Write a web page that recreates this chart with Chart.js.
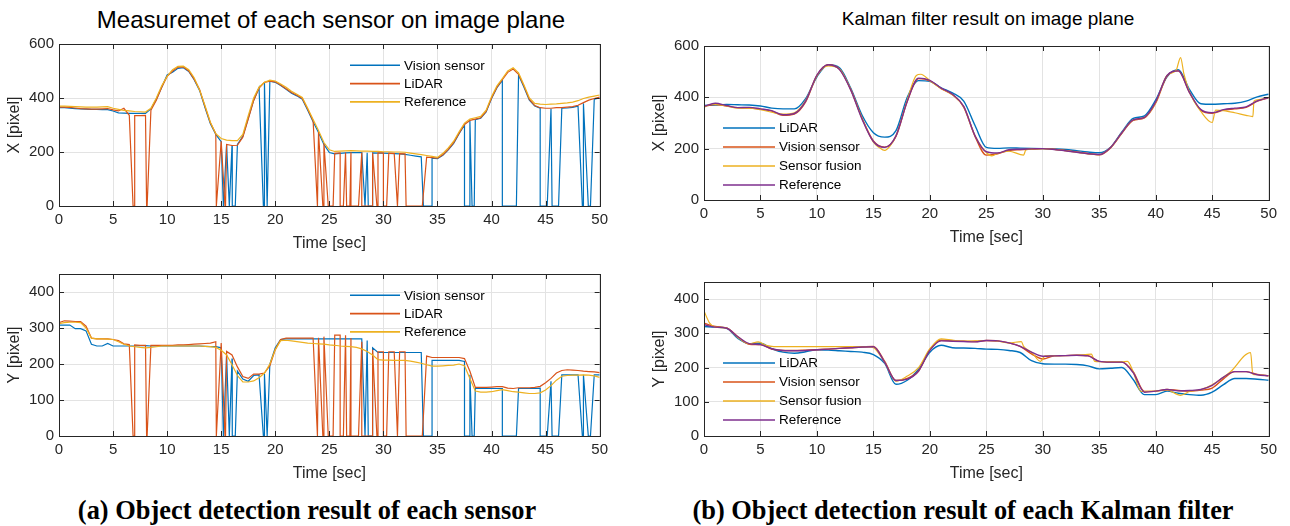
<!DOCTYPE html>
<html>
<head>
<meta charset="utf-8">
<script src="https://cdn.jsdelivr.net/npm/chart.js@4.4.1/dist/chart.umd.min.js"></script>
<style>
  body { margin: 0; background: #fff; width: 1290px; height: 526px; position: relative; overflow: hidden; font-family: "Liberation Sans", Arial, sans-serif; }
  canvas { position: absolute; }
  .titulo { position: absolute; font-size: 19px; line-height: 22px; color: #000; white-space: nowrap; transform: translateX(-50%); }
  .legenda { position: absolute; font-family: "Liberation Serif", "Times New Roman", serif; font-weight: bold; font-size: 26.4px; line-height: 30px; color: #000; white-space: nowrap; transform: translateX(-50%); }
</style>
</head>
<body>
<div class="titulo" style="left:331px; top:7px; font-size:24px; line-height:26px">Measuremet of each sensor on image plane</div>
<div class="titulo" style="left:988px; top:8px">Kalman filter result on image plane</div>

<canvas id="medidaX" style="left:0; top:30px" width="613" height="223"></canvas>
<canvas id="medidaY" style="left:0; top:260px" width="613" height="223"></canvas>
<canvas id="kalmanX" style="left:645px; top:32px" width="637" height="215"></canvas>
<canvas id="kalmanY" style="left:645px; top:268px" width="637" height="215"></canvas>

<div class="legenda" style="left:307px; top:495px">(a) Object detection result of each sensor</div>
<div class="legenda" style="left:963px; top:495px">(b) Object detection result of each Kalman filter</div>

<script>
'use strict';
// TEMPO (s)
const tA = [0,0.5,1,1.5,2,2.5,3,3.5,4,4.5,5,5.5,6,6.5,7,7.5,8,8.5,9,9.5,
  10,10.5,11,11.5,12,12.5,13,13.5,14,14.5,15,15.5,16,16.5,17,17.5,18,18.5,19,19.5,
  20,20.5,21,21.5,22,22.5,23,23.5,24,24.5,25,25.5,26,26.5,27,27.5,28,28.5,29,29.5,
  30,30.5,31,31.5,32,32.5,33,33.5,34,34.5,35,35.5,36,36.5,37,37.5,38,38.5,39,39.5,
  40,40.5,41,41.5,42,42.5,43,43.5,44,44.5,45,45.5,46,46.5,47,47.5,48,48.5,49,49.5,50];
const tB = [0,1,2,3,4,5,6,7,8,9,10,11,12,13,14,15,16,17,18,19,20,21,22,23,24,25,
  26,27,28,29,30,31,32,33,34,35,36,37,38,39,40,41,42,43,44,45,46,47,48,49,50];

// (a) MEDIDAS DE CADA SENSOR
const visaoX = [364,364,362,361,360,359,358,358,357,357,
  352,345,344,343,343,343,343,360,395,440,
  485,495,510,512,498,468,428,365,305,265,
  238,228,225,228,258,325,392,438,458,462,
  458,446,432,418,408,395,355,312,272,228,
  198,193,195,197,198,198,198,197,197,196,
  196,195,194,193,191,188,185,182,179,177,
  175,188,208,232,268,300,315,320,325,348,
  398,438,465,493,505,485,440,392,370,362,
  360,360,362,362,363,365,370,380,390,396,400];
const lidarX = [366,366,365,363,361,360,359,359,360,361,
  356,352,362,336,335,335,336,355,392,440,
  480,500,514,515,500,470,432,368,308,268,
  240,228,224,225,255,322,390,437,458,462,
  460,448,434,420,410,398,358,316,275,232,
  200,195,197,198,199,199,198,198,197,197,
  197,196,195,194,193,190,187,184,181,179,
  177,190,210,235,270,302,317,322,327,350,
  400,440,468,495,507,488,444,395,372,364,
  362,362,364,364,366,368,373,383,392,398,403];
const referenciaX = [370,370,369,368,367,366,366,366,367,368,
  362,358,354,352,350,349,348,362,400,445,
  480,505,517,518,505,475,430,372,310,268,
  250,244,242,242,265,335,400,440,458,466,
  463,452,440,425,414,402,362,320,280,235,
  208,202,203,204,205,204,203,203,202,202,
  201,201,200,200,199,196,193,190,187,184,
  180,195,215,240,275,307,322,327,332,355,
  405,445,472,500,512,493,448,400,380,377,
  376,377,378,380,382,385,390,398,403,407,411];

const visaoY = [308,308,308,298,298,292,255,250,250,257,
  250,250,250,250,250,251,251,250,250,250,
  250,250,250,250,250,250,250,249,248,248,
  245,225,215,180,158,152,168,170,172,200,
  245,268,270,270,270,270,270,270,270,270,
  270,270,270,270,270,270,270,265,245,232,
  232,232,232,232,232,232,232,232,220,210,
  210,210,210,210,210,207,170,132,132,132,
  132,132,132,132,132,132,132,132,132,133,
  140,152,168,170,170,170,170,170,170,170,170];
const lidarY = [315,320,319,318,318,305,272,270,270,270,
  268,265,256,254,253,252,252,252,252,252,
  252,252,253,253,254,255,256,257,258,262,
  258,235,225,192,165,160,172,172,175,195,
  240,268,272,272,272,272,272,272,273,276,
  278,280,280,280,272,265,262,258,240,234,
  234,234,234,234,234,234,234,233,222,218,
  218,218,218,218,218,215,180,135,135,135,
  136,137,137,133,132,134,134,134,135,138,
  148,160,175,182,184,183,182,180,179,178,176];
const referenciaY = [312,315,316,316,315,300,272,270,270,269,
  268,262,255,250,248,246,245,246,248,250,
  250,250,250,250,250,250,250,249,248,246,
  238,225,198,168,150,150,153,162,175,200,
  240,265,266,264,262,260,258,257,256,255,
  253,252,250,249,248,246,242,235,225,212,
  211,211,210,210,210,208,205,202,198,194,
  194,195,196,197,200,195,160,125,122,122,
  123,126,129,126,123,122,120,118,118,120,
  128,140,155,166,168,169,169,170,169,167,163];

// intervalos [inicio, fim] em que o sensor perde o objeto (valor 0)
const falhasLidar = [[6.85,7.0],[8.1,8.15],[14.55,14.6],[15.35,15.4],[23.9,23.95],[24.4,24.5],
  [24.9,25.2],[25.3,25.35],[26.0,26.3],[26.6,26.9],[27.0,27.05],[27.4,27.7],[28.0,29.0],
  [29.4,29.45],[30.0,30.3],[31.3,31.35],[32.1,33.6]];
const falhasVisao = [[15.2,15.25],[15.75,15.8],[16.0,16.05],[16.3,16.35],[18.9,19.0],[19.25,19.3],
  [28.3,28.35],[28.6,28.65],[28.9,28.95],[33.7,34.5],[37.5,37.55],[37.9,37.95],[38.2,38.25],
  [38.4,38.45],[41.0,42.3],[44.5,45.15],[45.6,45.65],[45.95,46.2],[48.4,48.5],[48.95,49.15]];

// (b) RESULTADO DO FILTRO DE KALMAN
const kfLidarX = [368,370,372,371,370,366,358,355,355,395,
  480,527,515,435,330,262,245,270,400,465,
  462,437,417,385,290,205,201,203,202,201,
  200,199,197,192,187,184,205,265,318,328,
  390,480,508,430,375,373,375,377,385,402,412];
const kfVisaoX = [365,372,366,360,358,354,346,330,335,382,
  485,527,510,430,318,230,206,248,385,473,
  464,434,410,362,248,175,180,193,196,198,
  200,198,193,187,181,176,203,260,310,320,
  378,483,503,418,350,338,350,355,361,385,398];
const kfReferenciaX = [364,377,368,360,361,355,348,332,337,385,
  487,527,508,428,315,228,205,250,385,475,
  466,436,412,365,250,188,183,196,198,199,
  200,197,192,186,180,177,205,262,312,322,
  383,485,503,418,352,340,352,358,363,386,399];
const tFusaoX = [0,0.5,1,2,3,4,5,6,7,8,9,10,11,12,13,14,15,15.5,16,16.5,17,18,18.8,19.2,
  20,21,22,23,24,25,25.5,26,27,28.3,28.5,29,30,31,32,33,34,35,36,37,38,39,40,41,
  41.8,42.2,42.5,43,44,45,45.3,46,47,48,48.6,48.7,49,50];
const kfFusaoX = [360,372,372,366,358,358,352,342,335,340,388,485,522,510,430,318,225,205,193,212,250,390,485,490,
  465,434,410,363,250,185,172,182,190,175,195,198,200,197,192,186,180,177,205,262,312,322,380,485,
  505,555,490,420,345,302,350,348,340,330,325,385,390,400];

const kfLidarY = [320,318,315,285,270,271,255,245,242,246,
  252,251,249,247,245,238,212,151,163,195,
  245,265,258,257,256,254,253,250,244,220,
  211,210,210,209,205,196,198,200,165,121,
  121,131,125,121,119,128,150,168,168,166,163];
const kfVisaoY = [330,320,316,290,268,267,254,250,250,251,
  252,254,256,258,260,262,218,162,168,190,
  252,280,278,277,276,279,278,272,262,240,
  225,234,235,236,235,218,216,216,188,130,
  131,136,133,131,134,140,167,188,188,180,176];
const kfReferenciaY = [325,318,315,290,270,267,255,250,249,250,
  252,254,256,258,260,261,215,162,166,190,
  250,278,277,276,275,279,278,272,262,245,
  233,234,235,236,234,218,216,216,185,128,
  131,136,132,133,136,148,172,188,188,179,176];
const tFusaoY = [0,0.5,1,2,3,4,4.8,5.5,6,7,8,10,12,14,15,15.5,16,17,18,19,20,21,22,23,25,26,27,
  28.1,28.3,29,29.8,30.2,31,33,34.3,34.6,35,37,37.5,38,38.7,40,41,42.2,43,44,45,46,46.6,48.4,48.6,49,50];
const kfFusaoY = [365,330,318,315,288,270,275,265,262,261,261,261,261,261,258,240,215,160,175,200,255,284,280,277,279,277,272,
  276,262,245,218,234,235,236,239,218,217,217,218,188,130,131,134,119,130,136,150,172,187,244,180,179,176];

// CORES (padrao MATLAB)
const AZUL = '#0072BD', VERMELHO = '#D95319', AMARELO = '#EDB120', ROXO = '#7E2F8E';
const TEXTO = '#262626';
Chart.defaults.font.family = '"Liberation Sans", Arial, sans-serif';

const pontos = (t, v) => t.map((x, i) => ({x: x, y: v[i]}));

// junta a curva com os intervalos em zero
function comFalhas(t, v, falhas) {
    const pts = [];
    t.forEach((x, i) => {
        if (!falhas.some(f => x > f[0] && x < f[1])) pts.push({x: x, y: v[i]});
    });
    falhas.forEach(f => {
        pts.push({x: f[0] + 0.001, y: 0});
        pts.push({x: f[1] - 0.001, y: 0});
    });
    return pts.sort((a, b) => a.x - b.x);
}

const serie = (label, cor, data, largura, ordem, suave) => ({
    label: label,
    data: data,
    borderColor: cor,
    backgroundColor: cor,
    borderWidth: largura,
    pointRadius: 0,
    tension: 0,
    cubicInterpolationMode: suave ? 'monotone' : 'default',
    order: ordem
});

// caixa, ticks para dentro e legenda sem borda
const caixa = {
    id: 'caixa',
    afterDraw(chart, args, opts) {
        const {ctx, chartArea: a, scales} = chart;
        ctx.save();
        ctx.strokeStyle = TEXTO;
        ctx.lineWidth = 1;
        ctx.beginPath();
        scales.x.ticks.forEach(t => {
            const px = Math.round(scales.x.getPixelForValue(t.value)) + 0.5;
            ctx.moveTo(px, a.top); ctx.lineTo(px, a.top + 5);
            ctx.moveTo(px, a.bottom); ctx.lineTo(px, a.bottom - 5);
        });
        scales.y.ticks.forEach(t => {
            const py = Math.round(scales.y.getPixelForValue(t.value)) + 0.5;
            ctx.moveTo(a.left, py); ctx.lineTo(a.left + 5, py);
            ctx.moveTo(a.right, py); ctx.lineTo(a.right - 5, py);
        });
        ctx.stroke();
        ctx.strokeRect(Math.round(a.left) + 0.5, Math.round(a.top) + 0.5, Math.round(a.right - a.left), Math.round(a.bottom - a.top));

        ctx.font = '13.5px "Liberation Sans", Arial, sans-serif';
        ctx.textBaseline = 'middle';
        chart.data.datasets.forEach((ds, i) => {
            const y = a.top + opts.y + i * opts.dy;
            const x0 = a.left + opts.x;
            ctx.strokeStyle = ds.borderColor;
            ctx.lineWidth = 1.6;
            ctx.beginPath();
            ctx.moveTo(x0, y); ctx.lineTo(x0 + opts.comp, y);
            ctx.stroke();
            ctx.fillStyle = '#000';
            ctx.fillText(ds.label, x0 + opts.texto, y + 0.5);
        });
        ctx.restore();
    }
};

function grafico(id, series, yMax, yStep, yTitulo, leg) {
    const ctx = document.getElementById(id).getContext('2d');
    return new Chart(ctx, {
        type: 'line',
        data: { datasets: series },
        plugins: [caixa],
        options: {
            responsive: false,
            animation: false,
            layout: { padding: { left: 5, right: 10, top: 12, bottom: 0 } },
            scales: {
                x: {
                    type: 'linear', min: 0, max: 50,
                    ticks: { stepSize: 5, color: TEXTO, font: { size: 15 }, padding: 5, maxRotation: 0 },
                    grid: { color: '#e3e3e3', drawTicks: false },
                    border: { display: false },
                    title: { display: true, text: 'Time [sec]', color: TEXTO, font: { size: 16 }, padding: 0 },
                    afterFit: (s) => { s.height = 47; }
                },
                y: {
                    min: 0, max: yMax,
                    ticks: { stepSize: yStep, color: TEXTO, font: { size: 15 }, padding: 5 },
                    grid: { color: '#e3e3e3', drawTicks: false },
                    border: { display: false },
                    title: { display: true, text: yTitulo, color: TEXTO, font: { size: 16 }, padding: 0 },
                    afterBuildTicks: (s) => { s.ticks = s.ticks.filter(t => t.value % yStep === 0); },
                    afterFit: (s) => { s.width = 54; }
                }
            },
            plugins: {
                legend: { display: false },
                tooltip: { enabled: false },
                caixa: leg
            }
        }
    });
}

const legA = { x: 291, y: 21.3, dy: 18.3, comp: 50, texto: 54 };
const legB1 = { x: 19, y: 82, dy: 19, comp: 52, texto: 56 };
const legB2 = { x: 19, y: 81, dy: 19, comp: 52, texto: 56 };

grafico('medidaX', [
    serie('Vision sensor', AZUL, comFalhas(tA, visaoX, falhasVisao), 1.2, 3),
    serie('LiDAR', VERMELHO, comFalhas(tA, lidarX, falhasLidar), 1.2, 2),
    serie('Reference', AMARELO, pontos(tA, referenciaX), 1.2, 1)
], 600, 200, 'X [pixel]', legA);

grafico('medidaY', [
    serie('Vision sensor', AZUL, comFalhas(tA, visaoY, falhasVisao), 1.2, 3),
    serie('LiDAR', VERMELHO, comFalhas(tA, lidarY, falhasLidar), 1.2, 2),
    serie('Reference', AMARELO, pontos(tA, referenciaY), 1.2, 1)
], 450, 100, 'Y [pixel]', legA);

grafico('kalmanX', [
    serie('LiDAR', AZUL, pontos(tB, kfLidarX), 1.4, 4, true),
    serie('Vision sensor', VERMELHO, pontos(tB, kfVisaoX), 1.4, 3, true),
    serie('Sensor fusion', AMARELO, pontos(tFusaoX, kfFusaoX), 1.2, 2, true),
    serie('Reference', ROXO, pontos(tB, kfReferenciaX), 1.4, 1, true)
], 600, 200, 'X [pixel]', legB1);

grafico('kalmanY', [
    serie('LiDAR', AZUL, pontos(tB, kfLidarY), 1.4, 4, true),
    serie('Vision sensor', VERMELHO, pontos(tB, kfVisaoY), 1.4, 3, true),
    serie('Sensor fusion', AMARELO, pontos(tFusaoY, kfFusaoY), 1.2, 2, true),
    serie('Reference', ROXO, pontos(tB, kfReferenciaY), 1.4, 1, true)
], 450, 100, 'Y [pixel]', legB2);
</script>
</body>
</html>
